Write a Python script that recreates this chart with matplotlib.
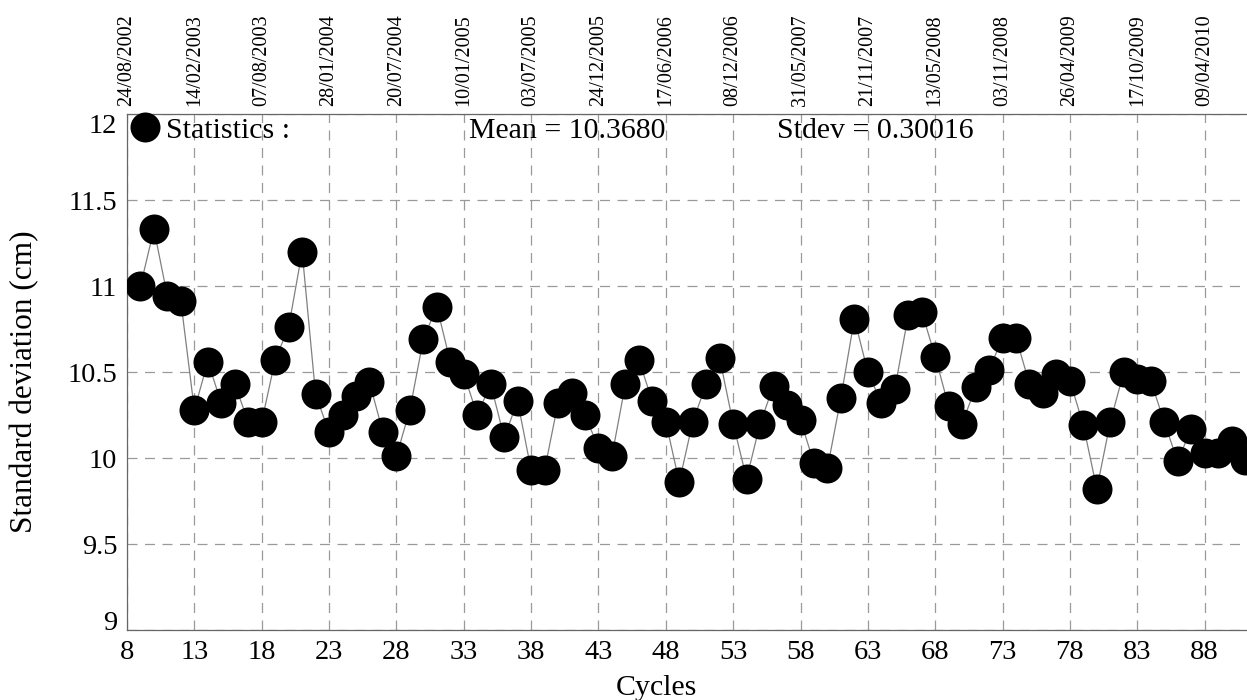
import matplotlib
matplotlib.use("Agg")
import matplotlib.pyplot as plt
from matplotlib.lines import Line2D

cycles = list(range(9, 92))
std_cm = [11.00, 11.33, 10.94, 10.91, 10.28, 10.56, 10.32, 10.43, 10.21, 10.21,
          10.57, 10.76, 11.20, 10.37, 10.15, 10.25, 10.36, 10.44, 10.15, 10.01,
          10.28, 10.69, 10.88, 10.56, 10.49, 10.25, 10.43, 10.12, 10.33, 9.93,
          9.93, 10.32, 10.38, 10.25, 10.06, 10.01, 10.43, 10.57, 10.33, 10.21,
          9.86, 10.21, 10.43, 10.58, 10.20, 9.88, 10.20, 10.42, 10.31, 10.22,
          9.97, 9.94, 10.35, 10.81, 10.50, 10.32, 10.40, 10.83, 10.85, 10.59,
          10.30, 10.20, 10.41, 10.51, 10.70, 10.70, 10.43, 10.38, 10.49, 10.45,
          10.19, 9.82, 10.21, 10.50, 10.46, 10.45, 10.21, 9.98, 10.17, 10.03,
          10.03, 10.10, 9.99]

x_ticks = [8, 13, 18, 23, 28, 33, 38, 43, 48, 53, 58, 63, 68, 73, 78, 83, 88]
date_labels = ["24/08/2002", "14/02/2003", "07/08/2003", "28/01/2004", "20/07/2004",
               "10/01/2005", "03/07/2005", "24/12/2005", "17/06/2006", "08/12/2006",
               "31/05/2007", "21/11/2007", "13/05/2008", "03/11/2008", "26/04/2009",
               "17/10/2009", "09/04/2010"]
y_ticks = [9, 9.5, 10, 10.5, 11, 11.5, 12]
y_tick_labels = ["9", "9.5", "10", "10.5", "11", "11.5", "12"]
mean_text = "Mean = 10.3680"
stdev_text = "Stdev = 0.30016"

plt.rcParams['font.family'] = ['Liberation Serif', 'DejaVu Serif']

W, H = 1247, 700
fig = plt.figure(figsize=(W / 100, H / 100), dpi=100)
ax_left, ax_right, ax_top, ax_bottom = 127, 1247, 114, 630
ax = fig.add_axes([ax_left / W, 1 - ax_bottom / H, (ax_right - ax_left) / W,
                   (ax_bottom - ax_top) / H])

ax.plot(cycles, std_cm, '-', color='#808080', lw=0.9, zorder=2)
ax.plot(cycles, std_cm, 'o', color='black', markersize=21.6, markeredgewidth=0, zorder=3)

ax.set_xlim(8, 8 + (ax_right - ax_left) / 13.47)
ax.set_ylim(9, 12)
ax.set_xticks(x_ticks)
ax.set_xticklabels([str(t) for t in x_ticks], fontsize=20.5)
ax.set_yticks(y_ticks)
ax.set_yticklabels(y_tick_labels, fontsize=20.5)
ylabs = ax.get_yticklabels()
ylabs[-1].set_va('top')
ylabs[0].set_va('baseline')
ax.tick_params(axis='both', length=0, pad=7)

ax.grid(True, color='#9a9a9a', lw=0.9, linestyle=(0, (8, 6)))
ax.set_axisbelow(True)
for s in ['left', 'bottom', 'top']:
    ax.spines[s].set_color('#666666')
    ax.spines[s].set_linewidth(0.9)
ax.spines['right'].set_visible(False)

ax2 = ax.twiny()
ax2.set_xlim(ax.get_xlim())
ax2.set_xticks(x_ticks)
ax2.set_xticklabels(date_labels, rotation=90, fontsize=14.5)
ax2.tick_params(axis='x', length=0, pad=6)
for s in ax2.spines.values():
    s.set_visible(False)

fig.text(656 / W, 1 - 688 / H, "Cycles", fontsize=21.5, ha='center', va='center')
fig.text(25 / W, 1 - 382 / H, "Standard deviation (cm)", fontsize=22.5,
         ha='center', va='center', rotation=90)

handle = Line2D([], [], marker='o', color='black', linestyle='none',
                markersize=21.6, markeredgewidth=0)
ax.legend([handle], ["Statistics :"], loc='upper left', bbox_to_anchor=(0, 1),
          frameon=False, fontsize=21.5, handlelength=1.0, handletextpad=0.2,
          borderpad=0.1, borderaxespad=0.0)

ax.text((469 - ax_left) / (ax_right - ax_left), 1 - (131 - ax_top) / (ax_bottom - ax_top),
        mean_text, transform=ax.transAxes, fontsize=21.5, ha='left', va='center')
ax.text((777 - ax_left) / (ax_right - ax_left), 1 - (131 - ax_top) / (ax_bottom - ax_top),
        stdev_text, transform=ax.transAxes, fontsize=21.5, ha='left', va='center')

fig.savefig("out.png", dpi=100)
